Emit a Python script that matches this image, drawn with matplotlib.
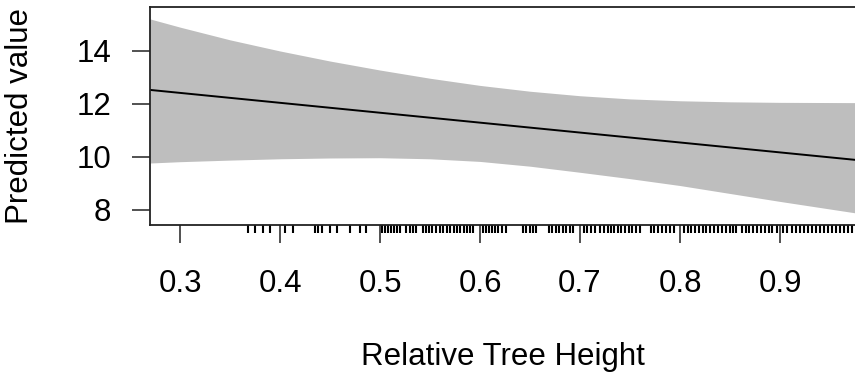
import matplotlib
matplotlib.use("Agg")
import matplotlib.pyplot as plt

plt.rcParams['font.family'] = ['Liberation Sans', 'DejaVu Sans']

# predicted line and confidence band
line_x = [0.27, 0.975]
line_y = [12.53, 9.89]

band_x = [0.27, 0.30, 0.35, 0.40, 0.45, 0.50, 0.55, 0.60, 0.65, 0.70,
          0.75, 0.80, 0.85, 0.90, 0.975]
band_upper = [15.21, 14.90, 14.42, 14.00, 13.62, 13.28, 12.97, 12.70, 12.48, 12.31,
              12.19, 12.12, 12.08, 12.06, 12.05]
band_lower = [9.77, 9.82, 9.88, 9.93, 9.96, 9.97, 9.93, 9.83, 9.65, 9.42,
              9.18, 8.92, 8.62, 8.32, 7.89]

# observed relative heights (rug)
rug_x = [
    0.368, 0.375, 0.383, 0.390, 0.405, 0.413, 0.435, 0.438, 0.442, 0.450,
    0.457, 0.470, 0.480, 0.486, 0.502, 0.505, 0.508, 0.511, 0.514, 0.517,
    0.520, 0.526, 0.530, 0.533, 0.536, 0.543, 0.546, 0.549, 0.552, 0.556,
    0.560, 0.563, 0.567, 0.570, 0.574, 0.577, 0.580, 0.584, 0.587, 0.590,
    0.593, 0.603, 0.606, 0.609, 0.612, 0.615, 0.618, 0.622, 0.626, 0.643,
    0.646, 0.650, 0.653, 0.656, 0.669, 0.672, 0.676, 0.679, 0.683, 0.686,
    0.690, 0.693, 0.704, 0.707, 0.711, 0.715, 0.720, 0.724, 0.728, 0.731,
    0.734, 0.738, 0.741, 0.745, 0.749, 0.752, 0.756, 0.760, 0.771, 0.774,
    0.778, 0.782, 0.786, 0.790, 0.794, 0.804, 0.808, 0.811, 0.815, 0.819,
    0.823, 0.826, 0.830, 0.834, 0.838, 0.842, 0.846, 0.850, 0.853, 0.856,
    0.862, 0.866, 0.869, 0.873, 0.877, 0.881, 0.885, 0.889, 0.892, 0.897,
    0.903, 0.907, 0.912, 0.916, 0.920, 0.924, 0.928, 0.932, 0.936, 0.940,
    0.944, 0.948, 0.952, 0.956, 0.960, 0.964, 0.968, 0.972,
]

x_ticks = [0.3, 0.4, 0.5, 0.6, 0.7, 0.8, 0.9]
y_ticks = [8, 10, 12, 14]

fig = plt.figure(figsize=(8.55, 3.76), dpi=100)
ax = fig.add_axes([150 / 855, 151 / 376, 705 / 855, 218 / 376])

ax.fill_between(band_x, band_lower, band_upper, color='#bebebe', linewidth=0)
ax.plot(line_x, line_y, color='black', linewidth=1.4)
ax.vlines(rug_x, -0.037, 0, transform=ax.get_xaxis_transform(),
          color='black', linewidth=1.5, clip_on=False)

ax.set_xlim(0.27, 0.975)
ax.set_ylim(7.43, 15.66)
ax.set_xticks(x_ticks)
ax.set_xticklabels([f'{v:.1f}' for v in x_ticks])
ax.set_yticks(y_ticks)

for s in ['top', 'left', 'bottom']:
    ax.spines[s].set_linewidth(1.3)
    ax.spines[s].set_color('#222222')
ax.spines['right'].set_visible(False)

ax.tick_params(axis='both', direction='out', length=13, width=1.2,
               color='#333333', labelsize=22.5)
ax.tick_params(axis='x', pad=19)
ax.tick_params(axis='y', pad=15)

ax.set_xlabel('Relative Tree Height', fontsize=22.5, labelpad=31)
ax.set_ylabel('Predicted value', fontsize=22.5, labelpad=30)

fig.savefig('out.png', dpi=100)
